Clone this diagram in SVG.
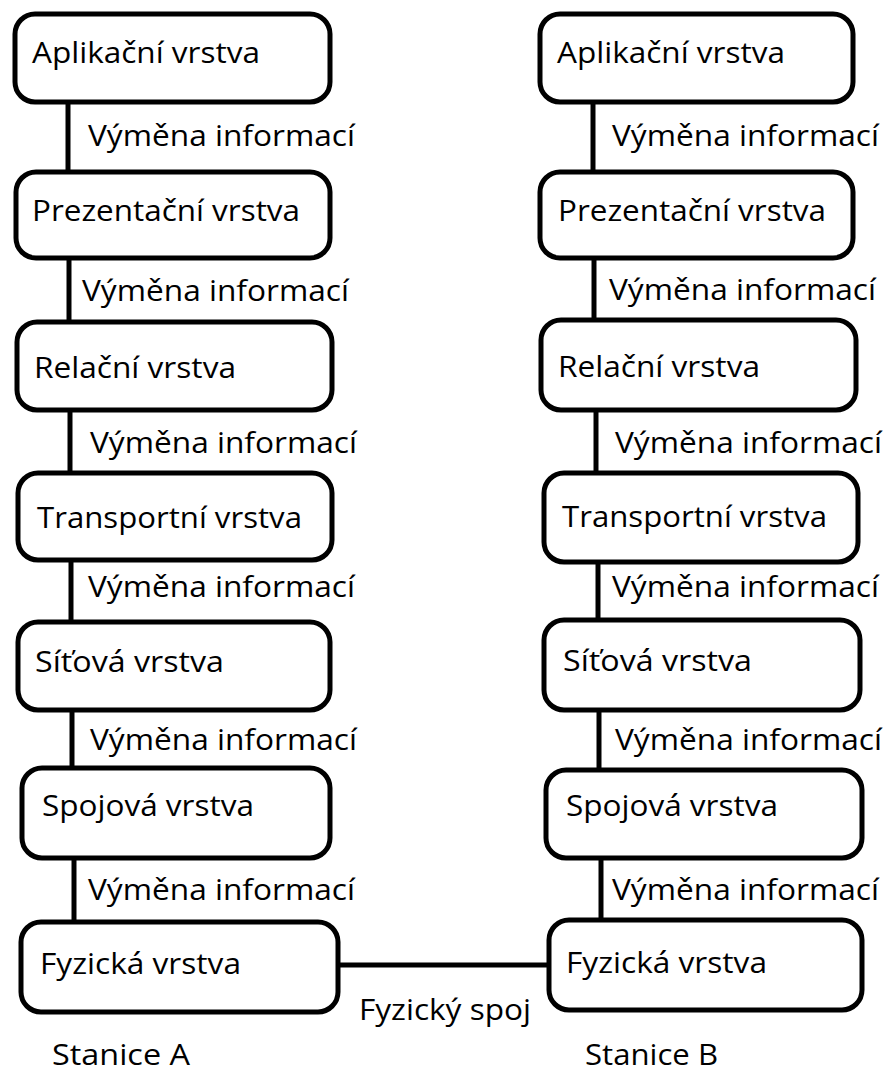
<svg xmlns="http://www.w3.org/2000/svg" width="885" height="1072" viewBox="0 0 885 1072">
<style>
.box{fill:#fff;stroke:#000;stroke-width:5}
.conn{stroke:#000;stroke-width:5;fill:none}
text{font-family:"Open Sans","Noto Sans","Liberation Sans",sans-serif;font-size:29px;fill:#000}
</style>
<rect width="885" height="1072" fill="#fff"/>
<g id="connectors">
<line class="conn" x1="68" y1="102" x2="68" y2="172"/>
<line class="conn" x1="69" y1="258" x2="69" y2="322"/>
<line class="conn" x1="70" y1="410" x2="70" y2="473"/>
<line class="conn" x1="71" y1="560" x2="71" y2="622"/>
<line class="conn" x1="72" y1="710" x2="72" y2="768"/>
<line class="conn" x1="74" y1="858" x2="74" y2="922"/>
<line class="conn" x1="593" y1="102" x2="593" y2="172"/>
<line class="conn" x1="594" y1="258" x2="594" y2="320"/>
<line class="conn" x1="596" y1="410" x2="596" y2="473"/>
<line class="conn" x1="598" y1="562" x2="598" y2="620"/>
<line class="conn" x1="599" y1="710" x2="599" y2="770"/>
<line class="conn" x1="601" y1="858" x2="601" y2="920"/>
<line class="conn" x1="338" y1="965" x2="549" y2="965"/>
<text x="88" y="146" textLength="267" lengthAdjust="spacingAndGlyphs">Výměna informací</text>
<text x="82" y="301" textLength="267" lengthAdjust="spacingAndGlyphs">Výměna informací</text>
<text x="90" y="453" textLength="267" lengthAdjust="spacingAndGlyphs">Výměna informací</text>
<text x="88" y="597" textLength="267" lengthAdjust="spacingAndGlyphs">Výměna informací</text>
<text x="90" y="750" textLength="267" lengthAdjust="spacingAndGlyphs">Výměna informací</text>
<text x="88" y="900" textLength="267" lengthAdjust="spacingAndGlyphs">Výměna informací</text>
<text x="612" y="146" textLength="267" lengthAdjust="spacingAndGlyphs">Výměna informací</text>
<text x="609" y="300" textLength="267" lengthAdjust="spacingAndGlyphs">Výměna informací</text>
<text x="615" y="453" textLength="267" lengthAdjust="spacingAndGlyphs">Výměna informací</text>
<text x="612" y="597" textLength="267" lengthAdjust="spacingAndGlyphs">Výměna informací</text>
<text x="615" y="750" textLength="267" lengthAdjust="spacingAndGlyphs">Výměna informací</text>
<text x="612" y="900" textLength="267" lengthAdjust="spacingAndGlyphs">Výměna informací</text>
<text x="359" y="1020" textLength="172" lengthAdjust="spacingAndGlyphs">Fyzický spoj</text>
</g>
<g id="a-aplikacni"><rect class="box" x="15" y="14" width="315" height="88" rx="20"/><text x="32" y="63" textLength="228" lengthAdjust="spacingAndGlyphs">Aplikační vrstva</text></g>
<g id="a-prezentacni"><rect class="box" x="16" y="172" width="314" height="86" rx="20"/><text x="32" y="221" textLength="268" lengthAdjust="spacingAndGlyphs">Prezentační vrstva</text></g>
<g id="a-relacni"><rect class="box" x="17" y="322" width="315" height="88" rx="20"/><text x="34" y="378" textLength="202" lengthAdjust="spacingAndGlyphs">Relační vrstva</text></g>
<g id="a-transportni"><rect class="box" x="18" y="473" width="314" height="87" rx="20"/><text x="37" y="528" textLength="265" lengthAdjust="spacingAndGlyphs">Transportní vrstva</text></g>
<g id="a-sitova"><rect class="box" x="18" y="622" width="312" height="88" rx="20"/><text x="35" y="672" textLength="189" lengthAdjust="spacingAndGlyphs">Síťová vrstva</text></g>
<g id="a-spojova"><rect class="box" x="22" y="768" width="308" height="90" rx="20"/><text x="42" y="816" textLength="212" lengthAdjust="spacingAndGlyphs">Spojová vrstva</text></g>
<g id="a-fyzicka"><rect class="box" x="21" y="922" width="317" height="90" rx="20"/><text x="40" y="974" textLength="201" lengthAdjust="spacingAndGlyphs">Fyzická vrstva</text></g>
<g id="b-aplikacni"><rect class="box" x="540" y="14" width="313" height="88" rx="20"/><text x="557" y="63" textLength="228" lengthAdjust="spacingAndGlyphs">Aplikační vrstva</text></g>
<g id="b-prezentacni"><rect class="box" x="540" y="172" width="313" height="86" rx="20"/><text x="558" y="221" textLength="268" lengthAdjust="spacingAndGlyphs">Prezentační vrstva</text></g>
<g id="b-relacni"><rect class="box" x="541" y="320" width="315" height="90" rx="20"/><text x="558" y="377" textLength="202" lengthAdjust="spacingAndGlyphs">Relační vrstva</text></g>
<g id="b-transportni"><rect class="box" x="544" y="473" width="314" height="89" rx="20"/><text x="562" y="527" textLength="265" lengthAdjust="spacingAndGlyphs">Transportní vrstva</text></g>
<g id="b-sitova"><rect class="box" x="544" y="620" width="316" height="90" rx="20"/><text x="563" y="671" textLength="189" lengthAdjust="spacingAndGlyphs">Síťová vrstva</text></g>
<g id="b-spojova"><rect class="box" x="546" y="770" width="316" height="88" rx="20"/><text x="566" y="816" textLength="212" lengthAdjust="spacingAndGlyphs">Spojová vrstva</text></g>
<g id="b-fyzicka"><rect class="box" x="549" y="920" width="313" height="90" rx="20"/><text x="566" y="973" textLength="201" lengthAdjust="spacingAndGlyphs">Fyzická vrstva</text></g>
<g id="labels">
<text x="52" y="1065" textLength="138" lengthAdjust="spacingAndGlyphs">Stanice A</text>
<text x="585" y="1065" textLength="133" lengthAdjust="spacingAndGlyphs">Stanice B</text>
</g>
</svg>
